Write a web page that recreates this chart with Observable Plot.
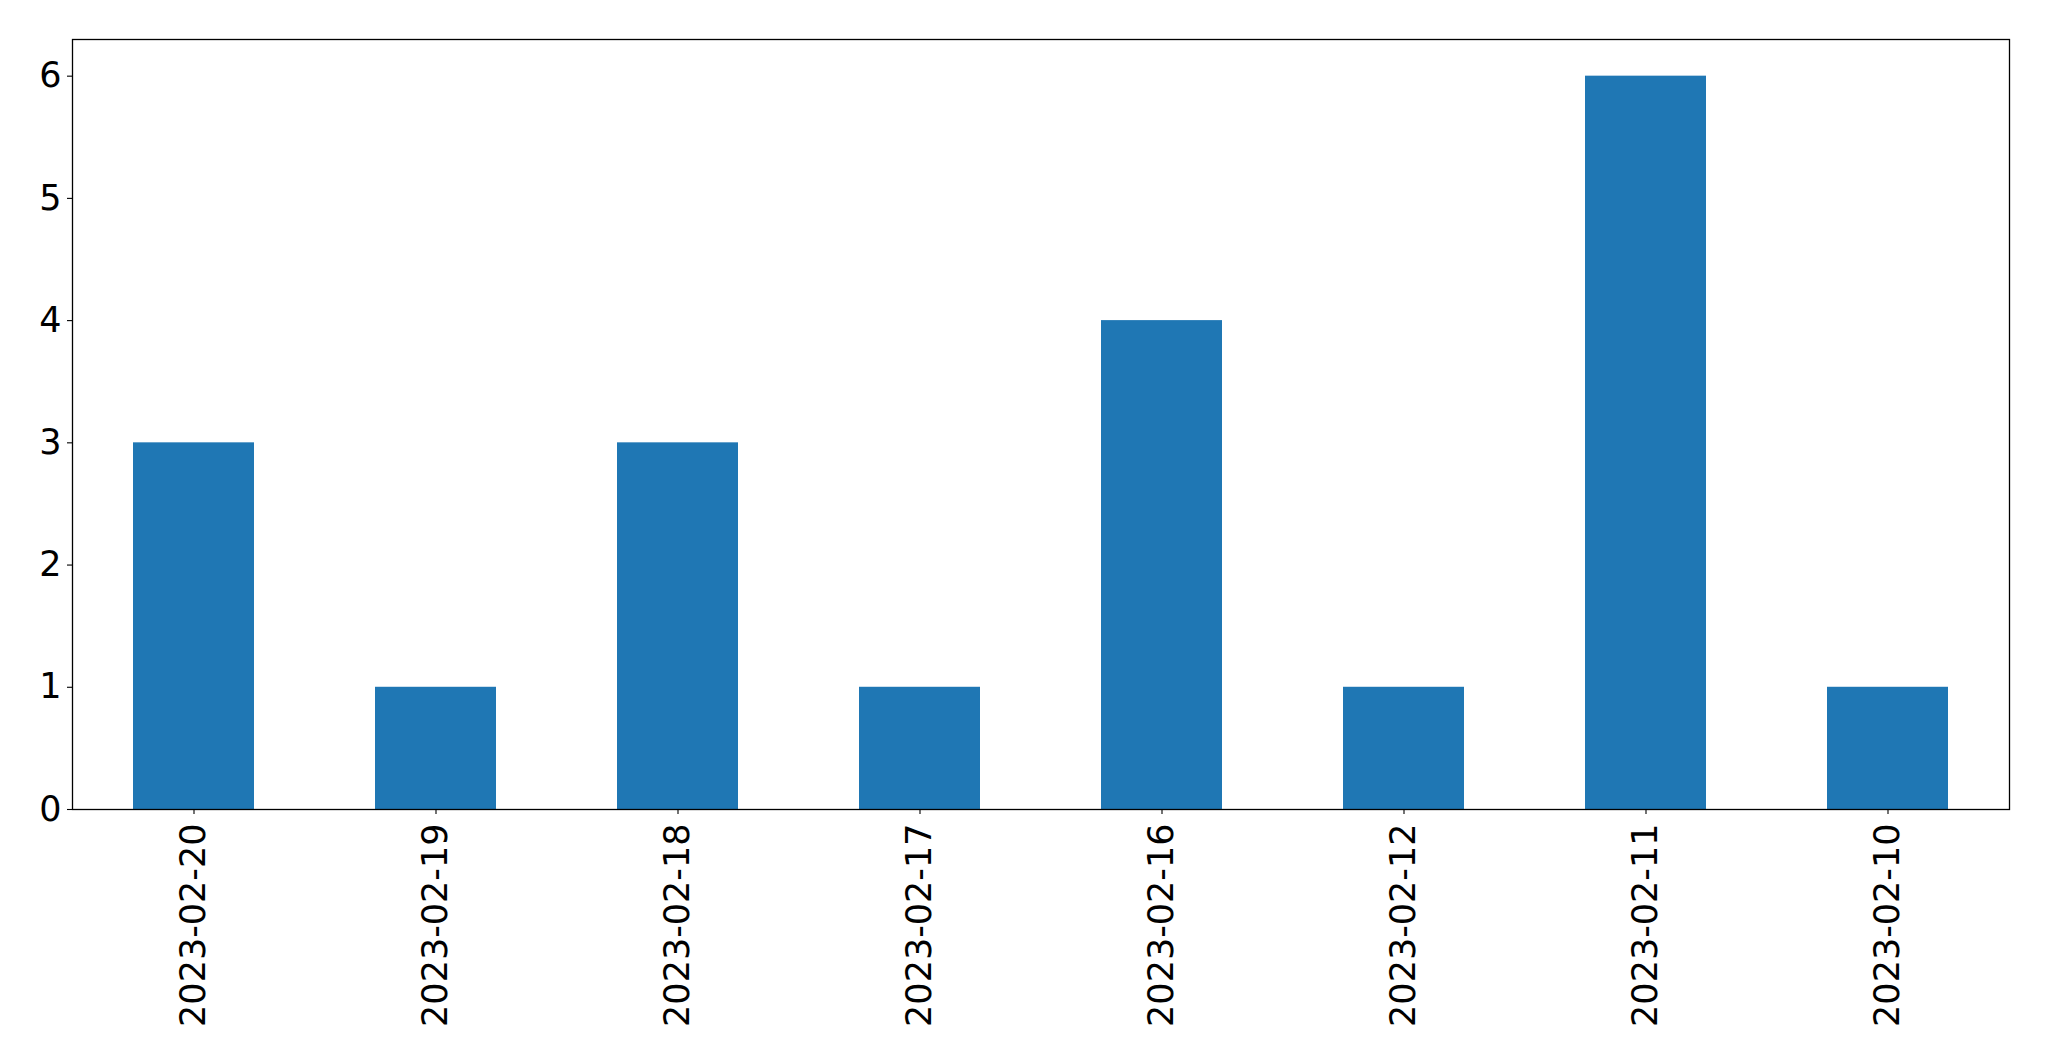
<!DOCTYPE html>
<html>
<head>
<meta charset="utf-8">
<script src="https://cdn.jsdelivr.net/npm/d3@7"></script>
<script src="https://cdn.jsdelivr.net/npm/@observablehq/plot@0.6"></script>
<style>
  html, body { margin: 0; padding: 0; background: #fff; }
  #chart svg { display: block; }
</style>
</head>
<body>
<div id="chart"></div>
<script>
const dates = ["2023-02-20", "2023-02-19", "2023-02-18", "2023-02-17", "2023-02-16", "2023-02-12", "2023-02-11", "2023-02-10"];
const counts = [3, 1, 3, 1, 4, 1, 6, 1];
const yTicks = [0, 1, 2, 3, 4, 5, 6];

const data = dates.map((d, i) => ({date: d, count: counts[i]}));

const chart = Plot.plot({
  width: 2049,
  height: 1061,
  marginLeft: 72,
  marginRight: 40,
  marginTop: 39,
  marginBottom: 252,
  style: {fontFamily: "DejaVu Sans", fontSize: "35px", color: "#000", background: "#fff", overflow: "visible"},
  x: {domain: dates, paddingInner: 0.5, paddingOuter: 0.25, label: null},
  y: {domain: [0, 6.3], label: null},
  marks: [
    Plot.barY(data, {x: "date", y: "count", fill: "#1f77b4"}),
    Plot.axisX({ticks: dates, tickSize: 5, tickPadding: 9, tickRotate: -90, fontSize: 35, label: null, stroke: "#000", strokeWidth: 1.1}),
    Plot.axisY({ticks: yTicks, tickFormat: "d", tickSize: 5, tickPadding: 6, fontSize: 35, label: null, stroke: "#000", strokeWidth: 1.1}),
    Plot.frame({stroke: "#000", strokeWidth: 1.3})
  ]
});
document.getElementById("chart").appendChild(chart);
</script>
</body>
</html>
